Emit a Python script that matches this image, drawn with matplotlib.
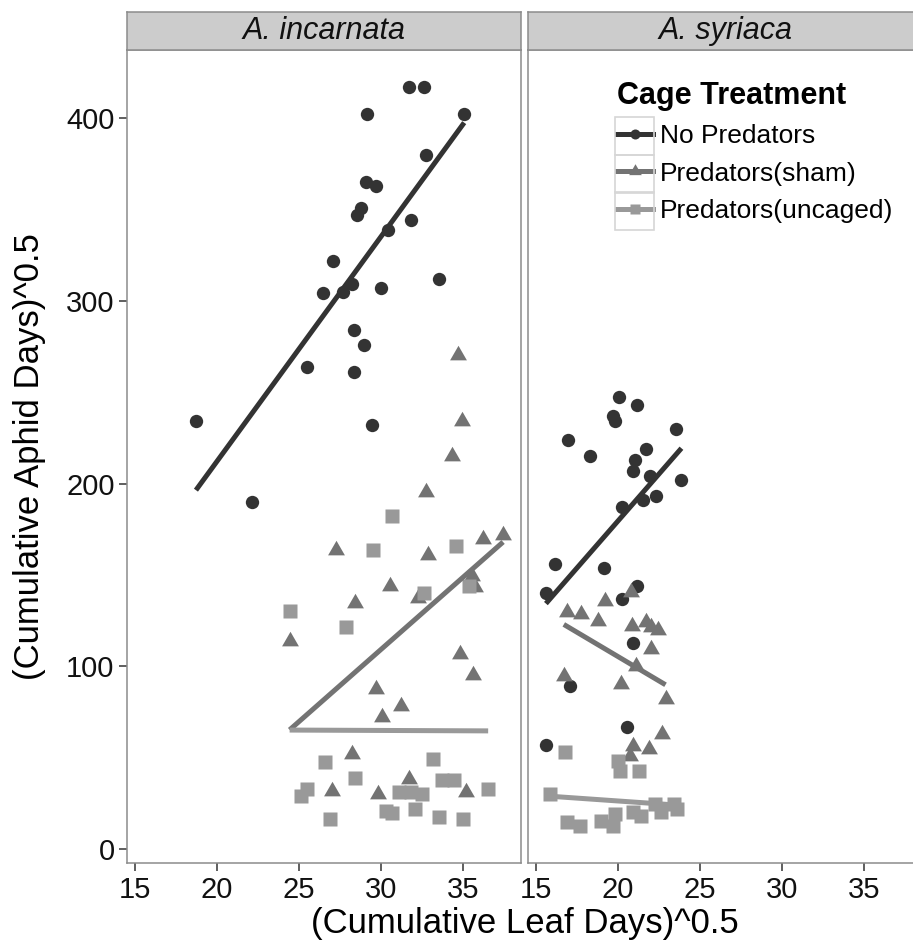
import numpy as np
import matplotlib
matplotlib.use("Agg")
import matplotlib.pyplot as plt
from matplotlib.lines import Line2D
from matplotlib.patches import Rectangle

plt.rcParams['font.family'] = ['Liberation Sans', 'DejaVu Sans']

# ---------------- data ----------------
species = ["A. incarnata", "A. syriaca"]
treatments = ["No Predators", "Predators(sham)", "Predators(uncaged)"]

# A. incarnata
inc_nopred_x = [31.72, 32.63, 29.16, 35.06, 32.75, 29.10, 29.71, 28.80, 28.50, 31.84, 30.44, 27.04,
                28.25, 27.70, 26.43, 30.00, 33.54, 28.37, 28.98, 25.46, 28.37, 18.71, 29.41, 22.11]
inc_nopred_y = [417, 417, 402, 402, 380, 365, 363, 351, 347, 344, 339, 322,
                309, 305, 304, 307, 312, 284, 276, 264, 261, 234, 232, 190]
inc_sham_x = [34.70, 34.94, 34.33, 32.75, 27.22, 32.87, 36.22, 37.43, 30.56, 28.43, 32.26, 24.42,
              35.55, 35.73, 34.82, 35.61, 29.71, 31.23, 30.08, 28.25, 26.98, 31.72, 29.83, 35.18]
inc_sham_y = [270.5, 234.4, 215.3, 195.6, 163.9, 160.7, 169.4, 171.6, 143.7, 134.4, 137.2, 113.7,
              149.2, 143.2, 106.6, 95.1, 87.4, 78.1, 72.1, 51.9, 31.7, 38.3, 30.1, 31.1]
inc_unc_x = [30.68, 29.53, 34.57, 24.42, 27.83, 32.63, 35.36, 26.55, 28.43, 33.18, 25.46, 25.09,
             33.72, 34.45, 36.52, 31.11, 31.84, 32.51, 30.32, 30.68, 32.08, 26.91, 33.54, 35.00]
inc_unc_y = [182.0, 163.4, 166.1, 130.1, 121.3, 139.9, 143.7, 47.5, 38.8, 49.2, 32.8, 29.0,
             37.7, 37.7, 32.8, 31.1, 31.1, 30.1, 20.8, 19.7, 21.9, 16.4, 17.5, 16.4]

# A. syriaca
syr_nopred_x = [20.06, 21.14, 19.70, 19.82, 23.55, 16.93, 18.31, 21.69, 21.02, 20.90, 21.93, 23.86,
                22.29, 21.51, 20.24, 16.14, 19.16, 15.60, 21.14, 20.24, 20.90, 17.05, 20.54, 15.60]
syr_nopred_y = [247.5, 243, 237, 234, 230, 224, 215, 219, 213, 207, 204, 202,
                193, 191, 187, 156, 154, 140, 144, 137, 113, 89, 67, 57]
syr_sham_x = [16.87, 17.71, 19.22, 20.78, 18.80, 20.84, 21.69, 21.99, 22.41, 21.99, 21.08, 16.69,
              20.18, 22.89, 22.65, 20.90, 21.87, 20.72]
syr_sham_y = [129.5, 128.4, 135.5, 140.4, 124.6, 121.9, 124.0, 121.3, 119.7, 109.3, 100.0, 94.5,
              90.2, 82.0, 62.8, 56.3, 54.6, 50.8]
syr_unc_x = [16.75, 20.00, 20.12, 21.27, 15.84, 16.87, 17.65, 18.98, 19.70, 19.82, 20.90, 21.39,
             22.23, 22.59, 23.43, 23.61]
syr_unc_y = [53.0, 48.1, 42.6, 42.6, 30.1, 14.8, 12.6, 15.3, 12.6, 19.1, 20.2, 18.0,
             24.6, 20.2, 24.6, 21.9]

x_ticks = [15, 20, 25, 30, 35]
y_ticks = [0, 100, 200, 300, 400]

panels = {
    "A. incarnata": [(inc_nopred_x, inc_nopred_y), (inc_sham_x, inc_sham_y), (inc_unc_x, inc_unc_y)],
    "A. syriaca": [(syr_nopred_x, syr_nopred_y), (syr_sham_x, syr_sham_y), (syr_unc_x, syr_unc_y)],
}

# ---------------- style ----------------
colors = ["#333333", "#737373", "#999999"]
tri = [(-1, -0.5774), (1, -0.5774), (0, 1.1547)]
markers = ["o", tri, "s"]
msizes = [9.6, 14.0, 10.3]
border_col = "#8c8c8c"

W, H = 913, 943
fig = plt.figure(figsize=(W / 100, H / 100), dpi=100)

# axis limits from all data with 5% expansion (shared scales)
allx = np.concatenate([np.asarray(v[0]) for p in panels.values() for v in p])
ally = np.concatenate([np.asarray(v[1]) for p in panels.values() for v in p])
xr = allx.max() - allx.min()
yr = ally.max() - ally.min()
xlim = (allx.min() - 0.05 * xr, allx.max() + 0.05 * xr)
ylim = (ally.min() - 0.05 * yr, ally.max() + 0.05 * yr)

def px(l, b, w, h):
    return [l / W, 1 - (b + h) / H, w / W, h / H]

panel_w = 394
lefts = [127, 528]
top, bottom = 50, 863
strip_top = 12

axes = []
for i, sp in enumerate(species):
    ax = fig.add_axes(px(lefts[i], top, panel_w, bottom - top))
    axes.append(ax)
    for k, (xs, ys) in enumerate(panels[sp]):
        xs = np.asarray(xs); ys = np.asarray(ys)
        ax.plot(xs, ys, linestyle="none", marker=markers[k], ms=msizes[k],
                mfc=colors[k], mec="none", zorder=3)
        b1, b0 = np.polyfit(xs, ys, 1)
        xx = np.array([xs.min(), xs.max()])
        ax.plot(xx, b0 + b1 * xx, color=colors[k], lw=3.6, solid_capstyle="butt", zorder=4)
    ax.set_xlim(xlim)
    ax.set_ylim(ylim)
    ax.set_xticks(x_ticks)
    ax.set_yticks(y_ticks)
    for s in ax.spines.values():
        s.set_color(border_col)
        s.set_linewidth(1.1)
    ax.tick_params(axis="both", direction="out", length=6, width=1.1, color="#333333",
                   labelsize=21, labelcolor="#111111", pad=3)
    if i > 0:
        ax.tick_params(axis="y", left=False, labelleft=False)
    # strip
    sax = fig.add_axes(px(lefts[i], strip_top, panel_w, top - strip_top))
    sax.set_xticks([]); sax.set_yticks([])
    sax.set_facecolor("#cccccc")
    for s in sax.spines.values():
        s.set_color(border_col)
        s.set_linewidth(1.1)
    sax.text(0.5, 0.5, sp, transform=sax.transAxes, ha="center", va="center",
             fontsize=22, style="italic", color="#111111")

# axis titles
fig.text(524.5 / W, 1 - 924 / H, "(Cumulative Leaf Days)^0.5", ha="center", va="center", fontsize=25)
fig.text(30 / W, 1 - 456.5 / H, "(Cumulative Aphid Days)^0.5", ha="center", va="center",
         rotation=90, fontsize=25)

# legend
handles = [Line2D([], [], color=colors[k], lw=3.6, marker=markers[k], ms=msizes[k] * 0.75,
                  mfc=colors[k], mec="none") for k in range(3)]
leg = axes[1].legend(handles, treatments, title="Cage Treatment",
                     loc="upper left", bbox_to_anchor=(612 / W, 1 - 76 / H),
                     bbox_transform=fig.transFigure, frameon=False, fontsize=19,
                     title_fontproperties={"weight": "bold", "size": 22},
                     alignment="left", handlelength=1.35, handletextpad=0.25,
                     labelspacing=0.5, borderpad=0.2, borderaxespad=0)

# key boxes aligned with legend rows
fig.canvas.draw()
renderer = fig.canvas.get_renderer()
for t in leg.get_texts():
    bb = t.get_window_extent(renderer)
    yc = (bb.y0 + bb.y1) / 2
    fig.add_artist(Rectangle((615 / W, (yc - 19) / H), 39 / W, 38 / H,
                             transform=fig.transFigure, fill=False, ec="#d6d6d6", lw=1.2,
                             zorder=5))

fig.savefig("out.png", dpi=100)
